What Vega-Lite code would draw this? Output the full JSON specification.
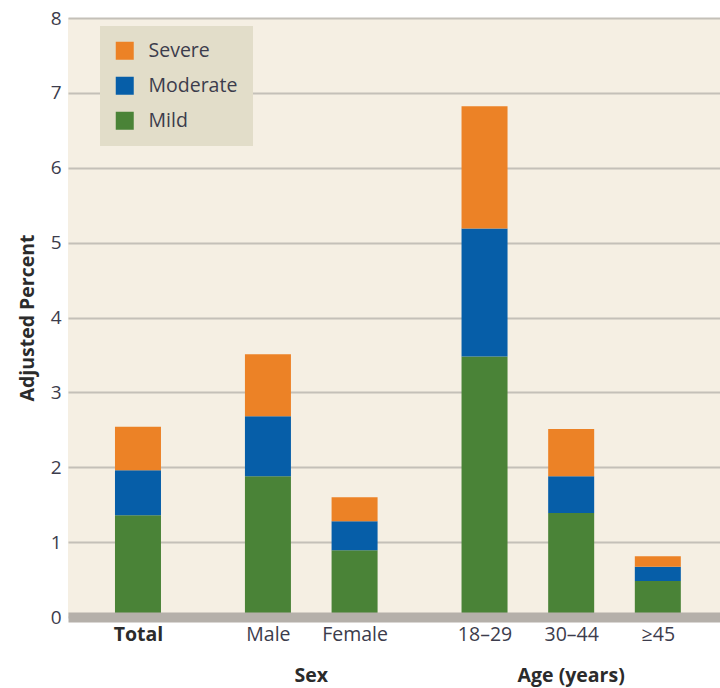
{
  "$schema": "https://vega.github.io/schema/vega-lite/v6.json",
  "width": 652,
  "height": 599,
  "autosize": {"type": "none"},
  "padding": {"left": 68, "top": 18, "right": 0, "bottom": 71},
  "background": "#ffffff",
  "config": {
    "font": "Open Sans",
    "view": {"fill": "#f5efe3", "stroke": null}
  },
  "datasets": {
    "bars": [
      {"group": "Total", "pos": 1.5, "severity": "Mild", "rank": 1, "value": 1.36},
      {"group": "Total", "pos": 1.5, "severity": "Moderate", "rank": 2, "value": 0.60},
      {"group": "Total", "pos": 1.5, "severity": "Severe", "rank": 3, "value": 0.58},
      {"group": "Male", "pos": 4.5, "severity": "Mild", "rank": 1, "value": 1.88},
      {"group": "Male", "pos": 4.5, "severity": "Moderate", "rank": 2, "value": 0.80},
      {"group": "Male", "pos": 4.5, "severity": "Severe", "rank": 3, "value": 0.83},
      {"group": "Female", "pos": 6.5, "severity": "Mild", "rank": 1, "value": 0.89},
      {"group": "Female", "pos": 6.5, "severity": "Moderate", "rank": 2, "value": 0.39},
      {"group": "Female", "pos": 6.5, "severity": "Severe", "rank": 3, "value": 0.32},
      {"group": "18–29", "pos": 9.5, "severity": "Mild", "rank": 1, "value": 3.48},
      {"group": "18–29", "pos": 9.5, "severity": "Moderate", "rank": 2, "value": 1.71},
      {"group": "18–29", "pos": 9.5, "severity": "Severe", "rank": 3, "value": 1.63},
      {"group": "30–44", "pos": 11.5, "severity": "Mild", "rank": 1, "value": 1.39},
      {"group": "30–44", "pos": 11.5, "severity": "Moderate", "rank": 2, "value": 0.49},
      {"group": "30–44", "pos": 11.5, "severity": "Severe", "rank": 3, "value": 0.63},
      {"group": "≥45", "pos": 13.5, "severity": "Mild", "rank": 1, "value": 0.48},
      {"group": "≥45", "pos": 13.5, "severity": "Moderate", "rank": 2, "value": 0.19},
      {"group": "≥45", "pos": 13.5, "severity": "Severe", "rank": 3, "value": 0.14}
    ],
    "sections": [
      {"section": "Sex", "pos": 5.5},
      {"section": "Age (years)", "pos": 11.5}
    ]
  },
  "layer": [
    {
      "data": {"name": "bars"},
      "mark": {"type": "bar", "size": 46},
      "encoding": {
        "x": {
          "field": "pos",
          "type": "quantitative",
          "scale": {"domain": [0, 14.82], "nice": false, "zero": false},
          "axis": {
            "title": null,
            "values": [1.5, 4.5, 6.5, 9.5, 11.5, 13.5],
            "labelExpr": "{'1.5':'Total','4.5':'Male','6.5':'Female','9.5':'18–29','11.5':'30–44','13.5':'≥45'}[toString(datum.value)]",
            "labelFontWeight": {"condition": {"test": "datum.value == 1.5", "value": "bold"}, "value": "normal"},
            "labelColor": {"condition": {"test": "datum.value == 1.5", "value": "#2b2b2b"}, "value": "#3c3c4c"},
            "labelFontSize": 19.5,
            "labelPadding": 8,
            "ticks": false,
            "grid": false,
            "domain": true,
            "domainColor": "#b5b0aa",
            "domainWidth": 10,
            "zindex": 1
          }
        },
        "y": {
          "field": "value",
          "type": "quantitative",
          "stack": "zero",
          "scale": {"domain": [0, 8], "nice": false},
          "axis": {
            "title": "Adjusted Percent",
            "titleFontSize": 19.5,
            "titleFontWeight": "bold",
            "titleColor": "#2b2b2b",
            "titlePadding": 13,
            "values": [0, 1, 2, 3, 4, 5, 6, 7, 8],
            "format": "d",
            "labelFontSize": 19,
            "labelColor": "#3c3c4c",
            "labelPadding": 7,
            "ticks": false,
            "domain": false,
            "grid": true,
            "gridColor": "#c4c0b8",
            "gridWidth": 2
          }
        },
        "color": {
          "field": "severity",
          "type": "nominal",
          "scale": {
            "domain": ["Severe", "Moderate", "Mild"],
            "range": ["#ec8226", "#065ea8", "#4a8337"]
          },
          "legend": {
            "title": null,
            "orient": "none",
            "legendX": 32,
            "legendY": 8,
            "fillColor": "#e2ddc9",
            "padding": 15,
            "symbolType": "square",
            "symbolSize": 324,
            "symbolStrokeWidth": 0,
            "labelFontSize": 19.5,
            "labelColor": "#3c3c4c",
            "labelOffset": 14,
            "rowPadding": 14,
            "labelLimit": 200
          }
        },
        "order": {"field": "rank", "type": "quantitative"}
      }
    },
    {
      "data": {"name": "sections"},
      "mark": {"type": "text", "fontSize": 19.5, "fontWeight": "bold", "color": "#2b2b2b", "dy": 59, "baseline": "middle"},
      "encoding": {
        "x": {"field": "pos", "type": "quantitative"},
        "y": {"datum": 0},
        "text": {"field": "section"}
      }
    }
  ]
}
